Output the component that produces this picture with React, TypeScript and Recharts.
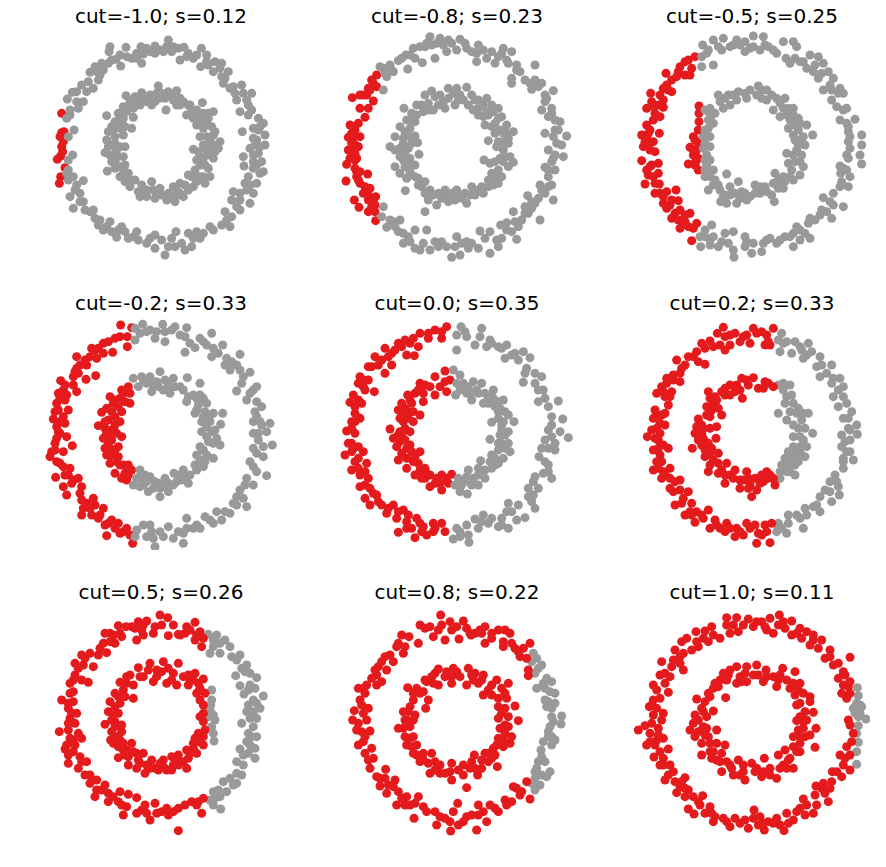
import { Scatter, ScatterChart, XAxis, YAxis, ZAxis } from "recharts";

type Pt = [number, number];

// readings, one pair of lists per panel
const titles = [
  "cut=-1.0; s=0.12", "cut=-0.8; s=0.23", "cut=-0.5; s=0.25",
  "cut=-0.2; s=0.33", "cut=0.0; s=0.35", "cut=0.2; s=0.33",
  "cut=0.5; s=0.26", "cut=0.8; s=0.22", "cut=1.0; s=0.11",
];

const red1: Pt[] = [[65,250],[65,308],[72,305],[60,320],[70,335],[65,350],[68,365],[62,378],[52,388],[75,413],[62,440],[58,460]];
const gray1: Pt[] = [[385,30],[380,50],[360,60],[395,65],[415,55],[432,52],[345,48],[330,65],[303,50],[310,72],[290,70],[305,100],[275,85],[258,52],[240,75],[242,108],[228,88],[210,50],[207,65],[205,100],[185,100],[165,110],[150,127],[180,135],[175,150],[145,155],[160,175],[125,165],[110,185],[97,187],[82,207],[130,215],[115,235],[90,240],[80,265],[102,300],[85,320],[98,375],[85,390],[80,430],[100,440],[85,450],[130,452],[110,465],[90,500],[120,490],[130,515],[100,535],[135,540],[160,540],[165,565],[175,585],[210,575],[190,600],[215,605],[235,600],[230,622],[255,605],[265,625],[290,605],[295,630],[320,640],[345,615],[345,655],[365,630],[375,675],[395,625],[405,650],[408,605],[435,660],[445,610],[455,650],[470,605],[490,610],[480,625],[520,600],[545,585],[570,590],[575,560],[555,545],[600,540],[575,510],[580,485],[600,490],[630,520],[640,490],[615,460],[650,460],[660,430],[625,440],[670,425],[640,415],[612,408],[610,380],[665,395],[640,395],[655,370],[675,345],[630,355],[650,330],[675,315],[640,325],[607,305],[640,295],[670,280],[655,265],[625,255],[600,245],[625,225],[590,210],[610,190],[635,190],[605,165],[585,190],[570,175],[550,160],[565,125],[545,140],[545,100],[520,125],[525,95],[500,75],[505,105],[482,110],[484,55],[460,85],[445,70],[420,90],
[370,65],[345,70],[400,50],[440,80],[470,75],[500,95],[540,115],[555,145],[580,170],[620,210],[635,240],[660,290],[655,300],[645,345],[660,350],[640,375],[650,405],[630,465],[620,480],[600,510],[590,530],[560,570],[510,590],[460,625],[425,640],[385,650],[330,625],[280,620],[245,590],[200,590],[180,570],[150,545],[120,515],[105,480],[85,420],[90,255],[110,215],[140,185],[170,125],[190,120],[215,90],[260,80],[290,85],[320,55],
[355,168],[350,190],[330,195],[305,188],[385,185],[410,182],[375,205],[400,210],[420,205],[345,215],[320,215],[295,210],[258,197],[270,215],[250,230],[280,235],[378,240],[420,225],[440,255],[445,225],[470,240],[487,218],[490,250],[520,245],[505,265],[480,270],[460,265],[515,290],[490,295],[500,320],[520,315],[540,335],[535,355],[515,345],[490,345],[460,358],[510,375],[490,385],[520,385],[480,405],[505,415],[465,420],[495,460],[480,440],[445,435],[470,455],[420,460],[445,480],[410,480],[430,500],[405,515],[385,490],[360,475],[380,510],[350,495],[335,455],[320,500],[320,480],[295,485],[270,470],[285,450],[255,455],[265,430],[240,440],[240,410],[202,423],[215,395],[255,405],[235,380],[210,375],[195,368],[240,350],[215,345],[255,350],[200,330],[225,320],[250,315],[205,305],[240,295],[275,295],[225,275],[200,257],[250,265],[280,262],[235,250],[260,245],
[310,205],[335,225],[360,205],[395,195],[430,215],[455,240],[475,255],[500,280],[470,285],[480,320],[510,330],[475,365],[500,360],[525,365],[470,390],[495,405],[455,440],[490,440],[435,465],[460,470],[400,470],[420,490],[395,500],[365,495],[340,480],[305,465],[300,500],[270,450],[250,430],[225,415],[225,395],[250,380],[205,350],[230,360],[220,300],[255,290],[245,275],[275,215],[300,225],
[285,200],[340,205],[365,190],[410,225],[450,225],[505,250],[525,305],[530,345],[480,380],[510,440],[465,440],[410,495],[345,505],[305,490],[265,450],[220,375],[225,340],[215,290],[240,265],[265,230]];

const red2: Pt[] = [[125,135],[110,150],[125,170],[100,175],[95,195],[75,195],[52,203],[115,213],[100,235],[75,235],[90,262],[70,280],[45,285],[60,300],[40,322],[75,320],[60,345],[40,360],[70,350],[45,385],[65,385],[35,403],[60,415],[98,432],[65,440],[33,453],[75,460],[105,475],[85,490],[122,500],[100,510],[58,510],[72,532],[120,525],[100,545],[120,545],[122,572],
[115,160],[105,180],[85,195],[55,290],[60,320],[50,340],[55,365],[60,390],[65,425],[70,450],[90,470],[100,495],[115,510],[110,530],[60,370],[50,310],[75,425]];
const gray2: Pt[] = [[145,115],[135,110],[165,105],[175,125],[155,140],[145,180],[190,92],[218,117],[213,75],[235,55],[240,85],[262,98],[270,50],[285,20],[300,85],[290,45],[315,25],[325,45],[350,40],[335,65],[375,28],[365,60],[390,40],[410,65],[425,95],[430,45],[445,60],[470,65],[490,80],[505,55],[530,65],[480,100],[520,100],[545,105],[600,105],[530,145],[530,160],[555,125],[570,150],[600,150],[620,160],[590,178],[655,182],[630,195],[630,215],[620,240],[650,235],[640,260],[675,275],[670,300],[630,310],[655,320],[695,318],[680,345],[640,360],[660,375],[685,380],[650,395],[630,412],[660,420],[640,440],[615,465],[650,465],[630,490],[610,505],[655,510],[578,497],[600,520],[570,530],[535,545],[580,550],[560,570],[615,570],[515,578],[497,585],[550,590],[530,605],[500,625],[545,628],[490,650],[435,603],[465,605],[450,625],[430,655],[465,670],[395,635],[400,655],[365,620],[360,650],[350,682],[375,675],[320,635],[310,650],[285,660],[300,635],[255,660],[265,640],[240,655],[275,600],[240,600],[205,640],[220,620],[195,570],[180,590],[190,605],[165,570],[155,592],[145,530],[140,560],[270,545],
[150,130],[170,120],[200,85],[225,75],[255,50],[275,40],[305,40],[340,30],[395,55],[425,70],[455,85],[500,70],[515,90],[545,120],[585,160],[610,170],[635,205],[650,250],[660,270],[660,300],[665,340],[655,385],[640,420],[640,470],[620,480],[590,515],[590,535],[570,550],[540,575],[515,600],[485,630],[410,640],[380,640],[335,650],[225,635],[205,610],[175,575],
[290,183],[270,195],[340,175],[365,175],[395,172],[315,195],[340,205],[375,195],[410,195],[430,210],[455,205],[245,225],[207,235],[280,220],[310,225],[330,235],[360,225],[400,225],[430,235],[470,225],[490,235],[430,255],[460,255],[500,260],[480,280],[450,285],[515,285],[505,310],[535,305],[480,310],[460,332],[490,335],[520,340],[505,360],[495,385],[525,380],[535,397],[447,390],[465,400],[520,410],[490,420],[470,430],[500,440],[460,450],[475,465],[440,470],[445,490],[410,470],[420,495],[390,490],[395,520],[365,480],[360,510],[330,480],[340,515],[310,490],[305,525],[280,510],[285,480],[270,455],[250,465],[211,482],[240,440],[215,445],[195,430],[210,410],[240,405],[180,410],[195,380],[225,385],[252,373],[165,350],[195,355],[220,355],[248,338],[180,320],[205,325],[240,318],[195,290],[225,295],[215,270],[245,255],[265,245],
[300,200],[355,190],[385,210],[420,210],[445,225],[415,240],[455,245],[475,245],[490,265],[470,290],[495,300],[515,310],[485,350],[505,335],[480,395],[505,395],[480,440],[460,470],[430,480],[405,495],[380,505],[350,490],[320,505],[295,495],[260,470],[225,425],[225,405],[205,390],[180,360],[205,340],[225,320],[210,305],[240,275],[260,225],[230,250],[295,240],
[325,215],[370,210],[445,260],[520,325],[510,380],[490,460],[375,495],[335,495],[270,490],[250,445],[210,365],[230,340],[230,270],[280,240]];

const red3: Pt[] = [[195,80],[165,95],[185,115],[108,130],[145,125],[165,135],[180,135],[125,150],[100,175],[125,185],[90,195],[100,210],[62,190],[65,215],[50,235],[100,232],[75,250],[90,260],[50,285],[60,300],[88,310],[35,315],[50,320],[70,335],[40,350],[60,360],[75,365],[35,392],[65,405],[85,400],[50,420],[85,430],[70,440],[45,462],[88,462],[75,490],[138,480],[110,485],[125,510],[100,520],[145,512],[110,535],[150,540],[125,565],[145,570],[165,555],[180,550],[150,595],[190,595],[185,632],[200,580],
[175,90],[150,110],[140,140],[110,165],[115,180],[70,230],[85,225],[70,270],[55,310],[45,335],[55,345],[60,410],[55,435],[75,460],[90,490],[100,500],[120,525],[135,550],[165,575],[175,590],
[207,228],[207,250],[207,275],[205,300],[190,320],[205,340],[180,352],[200,360],[190,375],[205,385],[175,402],[195,405],[205,420],[195,330],[190,360],[197,395]];
const gray3: Pt[] = [[218,45],[215,80],[215,110],[250,105],[235,60],[250,30],[280,25],[275,60],[300,50],[320,30],[310,45],[345,35],[370,18],[345,65],[370,50],[400,20],[390,60],[415,50],[440,70],[460,35],[490,35],[500,50],[468,85],[480,100],[510,95],[540,75],[565,80],[580,100],[530,115],[550,125],[565,145],[595,125],[610,145],[580,180],[605,180],[630,175],[605,210],[640,190],[620,230],[650,235],[630,270],[675,268],[655,290],[695,315],[660,320],[695,345],[660,355],[690,375],[655,385],[695,402],[630,408],[650,420],[632,430],[660,440],[630,470],[655,470],[610,490],[580,503],[640,530],[610,525],[590,545],[570,555],[605,565],[540,565],[535,580],[500,590],[490,610],[525,610],[540,625],[510,630],[490,650],[465,620],[440,640],[420,625],[400,640],[395,665],[365,670],[345,620],[345,650],[312,682],[310,660],[285,610],[310,605],[295,640],[265,650],[245,585],[225,600],[210,620],[240,630],[212,650],[240,645],
[230,70],[265,50],[330,45],[360,55],[405,45],[430,60],[495,85],[520,95],[555,105],[575,130],[600,165],[625,190],[640,240],[650,280],[655,305],[655,335],[650,375],[640,415],[635,455],[600,515],[575,540],[555,570],[510,600],[480,620],[450,630],[410,630],[370,640],[350,635],[275,635],[250,620],[225,620],
[225,240],[240,235],[265,195],[270,215],[295,195],[325,185],[300,225],[320,210],[360,180],[385,168],[380,195],[410,180],[410,210],[440,205],[465,205],[430,240],[460,235],[490,235],[450,260],[480,270],[505,265],[475,295],[505,300],[530,285],[548,315],[520,320],[495,330],[525,345],[500,360],[470,370],[515,375],[495,395],[520,410],[485,420],[510,435],[435,430],[460,440],[490,450],[430,460],[460,475],[405,470],[425,495],[433,515],[375,465],[390,490],[360,500],[335,485],[350,510],[320,520],[290,520],[272,515],[300,495],[325,455],[290,432],[300,470],[270,480],[235,480],[255,450],[225,440],[250,420],[230,405],[230,375],[225,340],[240,320],[225,300],[235,270],[255,250],
[245,255],[285,205],[310,195],[345,190],[395,180],[425,195],[450,220],[475,235],[490,255],[510,280],[490,315],[510,330],[490,375],[510,395],[480,440],[445,450],[410,485],[375,490],[345,490],[315,490],[285,495],[265,465],[240,440],[225,420],[225,390],[220,355],[235,295],[240,255],
[280,235],[350,205],[395,205],[470,255],[495,285],[505,345],[475,400],[465,455],[445,475],[390,470],[330,505],[280,500],[250,465],[240,390],[240,350],[220,320],[250,280]];

const red4: Pt[] = [[242,30],[275,38],[262,65],[225,70],[205,80],[262,95],[218,112],[155,100],[175,100],[190,115],[150,125],[110,125],[170,130],[140,150],[110,160],[100,185],[167,182],[138,193],[100,210],[62,197],[70,225],[110,230],[55,235],[80,240],[50,265],[85,285],[45,290],[70,305],[40,312],[75,325],[50,335],[60,355],[45,385],[80,365],[97,392],[70,410],[35,410],[30,425],[50,440],[70,455],[90,460],[47,487],[75,480],[115,490],[95,505],[70,515],[80,540],[120,535],[125,555],[160,550],[130,580],[165,570],[125,600],[155,600],[190,580],[175,610],[195,630],[215,615],[235,625],[260,640],[200,662],[240,655],[270,660],[278,685],
[240,65],[190,85],[165,105],[135,135],[120,150],[105,170],[115,175],[75,210],[60,250],[75,255],[55,285],[60,320],[55,350],[50,370],[45,405],[60,445],[85,480],[100,495],[125,515],[140,565],[150,580],[180,600],[205,625],[225,640],[250,650],
[265,215],[245,225],[270,235],[210,245],[240,250],[270,265],[220,265],[185,292],[215,290],[245,290],[205,315],[240,320],[175,332],[195,340],[215,345],[245,365],[190,370],[215,375],[195,400],[225,405],[200,420],[235,425],[210,445],[250,450],[225,475],[255,475],[275,465],[260,495],
[250,235],[225,255],[200,280],[225,305],[195,320],[225,330],[205,360],[230,355],[205,385],[235,395],[215,420],[240,450],[265,450],[245,490],[200,355],[210,400],[230,440],[255,260],[235,275],[265,480]];
const gray4: Pt[] = [[285,40],[308,28],[285,75],[320,50],[345,70],[330,45],[368,28],[375,80],[375,50],[405,35],[440,38],[420,60],[450,85],[435,112],[465,98],[480,70],[515,55],[500,90],[515,125],[548,90],[535,115],[555,150],[600,118],[575,140],[600,165],[570,165],[630,172],[605,205],[590,228],[650,215],[630,235],[620,255],[665,275],[645,290],[640,320],[690,325],[660,320],[640,355],[680,350],[655,375],[697,390],[640,400],[670,395],[630,440],[670,425],[680,482],[650,470],[620,490],[640,510],[600,525],[610,550],[580,565],[620,575],[530,590],[570,595],[545,615],[495,605],[520,625],[480,640],[440,610],[460,640],[430,655],[430,685],[400,670],[385,635],[345,695],[370,665],[335,650],[330,630],[310,630],[320,665],[290,645],[285,665],
[300,55],[350,50],[395,45],[435,65],[490,80],[520,100],[560,130],[590,150],[610,185],[640,225],[650,260],[650,305],[665,330],[655,355],[650,415],[640,455],[615,510],[590,545],[590,570],[555,590],[510,615],[470,630],[440,640],[415,650],[360,650],[340,670],
[280,190],[305,185],[330,185],[360,170],[295,215],[320,205],[350,200],[375,195],[400,190],[442,188],[335,230],[370,225],[405,215],[390,235],[480,205],[430,225],[460,240],[490,250],[440,260],[475,270],[500,265],[465,295],[495,290],[520,295],[548,295],[485,320],[510,320],[542,328],[485,350],[515,350],[530,370],[505,380],[540,390],[480,395],[470,420],[500,420],[520,430],[465,450],[490,455],[430,465],[450,480],[402,475],[425,495],[445,505],[375,490],[400,510],[360,520],[385,530],[330,485],[345,500],[360,545],[325,530],[300,465],[290,490],[300,515],[280,510],
[310,195],[340,210],[385,210],[420,215],[445,245],[480,240],[470,285],[510,300],[500,335],[500,365],[520,385],[490,405],[480,435],[470,465],[440,490],[410,500],[375,515],[340,520],[310,510],[300,490],[320,500],[355,215],[470,250],[490,305],[525,345],[495,440],[420,480],[385,505],[355,505],[315,480]];

const red5: Pt[] = [[335,35],[300,45],[255,55],[320,70],[280,70],[235,70],[210,75],[190,85],[250,95],[150,100],[180,105],[215,120],[238,122],[120,125],[160,125],[130,150],[170,150],[100,155],[150,175],[75,185],[100,195],[70,205],[118,230],[90,225],[55,240],[45,262],[80,265],[60,295],[50,320],[75,310],[35,348],[60,355],[40,385],[70,395],[30,420],[50,410],[85,410],[60,440],[95,445],[50,465],[75,480],[100,490],[75,515],[105,520],[90,550],[125,540],[105,570],[140,570],[175,570],[155,595],[205,585],[185,610],[215,620],[245,610],[190,652],[230,640],[265,635],[240,668],[275,660],[295,625],[295,650],[320,625],[330,650],
[320,50],[280,55],[225,85],[200,95],[170,115],[140,135],[110,155],[85,195],[85,215],[70,255],[60,275],[60,320],[50,340],[50,385],[55,400],[70,430],[70,460],[90,470],[90,510],[115,535],[130,560],[160,580],[190,590],[220,600],[255,625],[215,640],[260,650],[300,640],
[330,168],[300,185],[255,205],[285,215],[315,215],[345,195],[240,235],[218,240],[265,235],[300,240],[335,230],[200,265],[230,265],[265,260],[190,285],[220,290],[255,300],[205,320],[235,320],[165,342],[195,350],[225,350],[175,370],[210,375],[185,395],[215,400],[255,410],[190,435],[215,430],[240,425],[215,460],[250,445],[240,480],[270,460],[260,490],[285,480],[285,515],[305,490],[320,480],[320,525],[340,505],[350,478],
[270,210],[330,200],[250,225],[225,255],[210,280],[195,310],[220,310],[210,340],[195,380],[225,390],[200,415],[235,440],[255,465],[270,490],[300,505],[335,490],[235,290],[205,300],[190,360],[200,360],[230,410],[250,480],[275,475],[315,505]];
const gray5: Pt[] = [[378,35],[365,60],[440,40],[395,65],[420,90],[435,65],[365,105],[465,75],[455,95],[490,95],[515,90],[530,120],[565,110],[585,128],[510,130],[550,135],[575,160],[570,175],[620,185],[600,205],[565,202],[625,225],[610,260],[670,258],[640,275],[650,305],[683,312],[640,345],[675,350],[700,368],[630,375],[660,385],[640,400],[660,405],[612,425],[640,450],[625,475],[650,490],[600,485],[580,520],[610,520],[580,545],[600,580],[550,570],[520,565],[515,590],[570,608],[545,615],[500,610],[520,640],[490,635],[445,600],[460,625],[420,612],[430,640],[395,630],[400,660],[365,640],[402,682],[355,672],[375,665],
[390,50],[470,85],[500,100],[540,115],[600,175],[610,225],[630,250],[650,330],[650,365],[620,400],[630,440],[640,470],[595,500],[595,540],[590,560],[530,590],[500,630],[470,610],[440,620],[375,650],
[355,165],[375,180],[365,205],[385,205],[415,200],[440,205],[475,225],[362,240],[395,235],[430,235],[460,245],[410,255],[445,265],[505,255],[480,275],[510,290],[490,310],[520,300],[470,322],[537,320],[500,330],[520,350],[465,373],[495,360],[500,385],[520,385],[490,405],[525,410],[470,420],[505,430],[437,437],[465,440],[490,445],[430,460],[470,460],[400,465],[415,490],[450,490],[370,490],[390,500],[430,510],[375,530],[397,537],[360,510],
[400,215],[425,225],[450,235],[475,250],[495,280],[490,290],[505,320],[510,360],[490,385],[510,400],[480,430],[450,465],[430,480],[395,485],[380,510],[375,225],[410,235],[460,265],[490,260],[500,345],[480,450],[410,510]];

const red6: Pt[] = [[280,37],[262,55],[285,65],[315,55],[340,65],[370,40],[380,55],[430,40],[410,60],[360,85],[330,80],[240,78],[215,85],[270,90],[300,90],[285,105],[405,90],[420,90],[200,110],[175,125],[140,135],[225,148],[165,150],[205,140],[110,190],[150,175],[130,195],[150,200],[95,215],[125,230],[80,235],[105,245],[115,270],[75,285],[105,295],[70,310],[90,325],[105,330],[65,345],[90,355],[52,365],[85,375],[100,390],[70,405],[115,400],[90,420],[80,440],[70,465],[100,470],[120,460],[95,490],[120,490],[150,495],[120,520],[150,525],[175,530],[135,570],[160,550],[185,565],[165,600],[185,600],[200,590],[235,585],[195,622],[220,610],[240,640],[255,615],[270,640],[290,625],[320,640],[285,650],[315,665],[350,625],[340,660],[375,630],[380,685],[405,630],[395,660],[420,683],[425,625],
[300,60],[350,60],[395,50],[415,80],[250,95],[225,100],[190,125],[155,160],[130,180],[110,205],[100,230],[120,245],[80,300],[95,300],[80,340],[75,370],[85,400],[95,440],[85,460],[105,480],[135,500],[130,530],[155,565],[180,590],[215,600],[260,630],[300,640],[330,650],[360,640],[385,655],[410,650],
[370,188],[335,190],[405,200],[300,210],[355,210],[385,220],[430,215],[275,230],[330,225],[235,230],[240,250],[300,240],[337,250],[260,255],[230,275],[265,280],[205,312],[240,305],[275,300],[195,355],[220,340],[260,335],[220,370],[258,370],[187,400],[215,390],[245,400],[265,415],[225,425],[250,435],[235,470],[265,445],[290,445],[265,475],[315,465],[285,505],[310,490],[330,520],[350,470],[340,495],[365,545],[375,490],[380,525],[410,470],[400,500],[435,510],[415,490],[355,490],
[320,210],[350,195],[400,220],[415,205],[285,240],[250,265],[245,285],[230,300],[215,330],[240,340],[205,375],[235,385],[240,415],[240,450],[275,465],[300,480],[330,495],[360,510],[390,505],[420,480],[285,220],[315,230],[255,245],[215,355],[200,335],[225,405],[285,480],[355,520],[395,480],[430,490]];
const gray6: Pt[] = [[455,55],[445,75],[470,80],[495,80],[535,85],[450,110],[485,115],[515,105],[520,130],[545,110],[570,125],[560,155],[605,150],[570,185],[590,175],[630,190],[605,205],[640,215],[610,245],[640,245],[625,275],[665,290],[640,310],[680,330],[655,340],[682,358],[635,360],[660,375],[635,395],[660,410],[640,430],[670,435],[615,480],[640,460],[600,500],[625,515],[585,525],[628,540],[570,545],[605,560],[560,570],[570,590],[525,580],[530,600],[475,600],[510,610],[520,640],[475,625],[445,625],[470,655],[440,650],
[460,85],[510,95],[530,120],[575,150],[610,190],[625,225],[650,265],[655,310],[660,345],[645,380],[650,410],[640,440],[620,500],[600,530],[550,575],[500,600],[455,640],[445,635],
[445,210],[480,210],[460,225],[470,245],[490,265],[445,295],[470,315],[500,295],[535,295],[515,315],[490,330],[525,340],[548,355],[490,365],[520,375],[510,395],[525,425],[490,420],[465,430],[495,450],[455,450],[470,470],[495,480],[450,490],[510,410],[465,265],[480,290],
[460,205],[485,240],[505,280],[520,295],[505,340],[510,365],[530,395],[505,410],[480,440],[505,440],[470,460],[450,470],[490,395],[475,410],[500,430],[480,470]];

const red7: Pt[] = [[360,30],[383,38],[320,48],[295,50],[275,65],[235,62],[258,65],[305,75],[340,85],[385,92],[415,88],[400,60],[435,85],[465,52],[440,65],[480,80],[465,105],[485,125],[210,85],[195,85],[245,95],[290,105],[225,115],[190,115],[175,150],[200,143],[125,150],[150,145],[105,175],[130,180],[160,185],[105,210],[145,232],[125,225],[90,235],[100,260],[65,285],[100,290],[85,310],[110,325],[90,340],[105,355],[58,380],[85,375],[115,385],[125,400],[90,400],[75,432],[105,420],[85,450],[85,475],[120,455],[140,470],[115,490],[135,510],[150,535],[170,525],[195,540],[170,555],[165,575],[205,565],[240,560],[205,590],[235,590],[265,568],[290,578],[250,630],[260,605],[290,625],[315,600],[345,595],[330,645],[350,625],[380,610],[385,630],[415,610],[435,600],[455,590],[485,625],[415,677],[490,580],[470,600],
[345,65],[310,60],[285,70],[220,90],[240,85],[210,110],[180,130],[135,160],[115,190],[100,225],[90,265],[85,295],[95,325],[85,355],[100,405],[80,420],[100,440],[125,470],[150,510],[185,555],[220,575],[245,600],[305,615],[320,625],[365,620],[400,620],[475,590],[420,90],[450,75],[470,90],[490,100],[365,60],[310,90],
[330,175],[370,170],[295,188],[350,195],[385,190],[415,175],[445,210],[465,205],[490,222],[270,210],[310,215],[340,230],[380,235],[410,240],[445,240],[475,235],[240,232],[280,240],[470,265],[495,265],[250,255],[225,265],[280,280],[490,300],[210,290],[240,295],[205,320],[235,325],[490,325],[195,358],[225,350],[245,360],[215,380],[245,380],[495,375],[212,405],[240,405],[490,395],[465,400],[275,415],[235,425],[260,435],[490,420],[460,415],[235,458],[265,455],[280,440],[440,435],[470,445],[265,480],[295,465],[310,445],[415,450],[445,460],[290,490],[315,505],[335,465],[360,475],[395,455],[415,480],[440,490],[345,490],[380,495],[400,480],[370,465],
[300,215],[325,195],[365,200],[400,205],[430,215],[450,225],[480,250],[260,235],[235,275],[480,285],[480,335],[490,350],[225,305],[220,330],[225,365],[230,395],[475,385],[220,415],[250,415],[475,410],[255,450],[290,445],[460,430],[430,470],[300,475],[330,490],[355,495],[395,495],[420,470],[375,490],[260,215],[350,215],[395,225],[460,225],[255,275],[215,345],[250,435],[320,480],[410,465],[450,445]];
const gray7: Pt[] = [[505,88],[530,90],[555,105],[520,125],[510,145],[540,145],[570,125],[575,155],[600,150],[620,180],[587,212],[605,190],[630,205],[650,218],[600,242],[630,240],[645,250],[612,267],[670,273],[625,300],[650,295],[620,320],[660,310],[605,355],[650,340],[640,365],[625,385],[650,395],[620,410],[600,432],[645,430],[625,445],[645,460],[610,480],[590,470],[590,505],[570,520],[590,535],[550,530],[560,560],[520,560],[540,575],[510,585],[520,600],[542,612],
[540,115],[520,105],[590,165],[615,200],[625,255],[640,285],[640,320],[630,340],[635,395],[630,420],[610,450],[605,510],[580,540],[535,555],[525,580],
[515,255],[515,285],[510,315],[525,345],[505,335],[515,365],[520,385],[522,408],[512,300],[520,330]];

const red8: Pt[] = [[317,30],[255,60],[285,65],[345,50],[385,48],[310,75],[350,75],[395,70],[420,85],[450,65],[295,95],[330,105],[372,102],[408,90],[440,85],[490,75],[510,75],[525,85],[200,90],[222,95],[250,115],[470,100],[450,115],[505,110],[505,125],[540,130],[565,130],[585,115],[185,125],[210,125],[575,160],[555,155],[150,155],[175,170],[205,145],[130,185],[155,195],[125,210],[110,220],[140,230],[95,240],[125,240],[70,250],[90,265],[75,285],[100,310],[58,317],[85,325],[53,345],[95,345],[65,375],[105,378],[90,395],[70,420],[110,430],[90,445],[115,460],[105,490],[152,493],[125,515],[150,520],[180,525],[135,543],[175,545],[155,565],[190,560],[215,575],[250,575],[185,600],[210,600],[240,595],[265,605],[237,640],[300,620],[368,595],[355,620],[330,640],[305,660],[347,678],[370,660],[395,635],[430,600],[425,675],[430,630],[455,650],[465,600],[490,620],[510,585],[535,545],[545,550],[575,530],[555,570],[585,582],[530,590],[580,212],[580,195],
[270,70],[320,60],[365,65],[405,85],[435,75],[470,85],[530,115],[550,140],[190,115],[165,150],[140,170],[120,195],[85,250],[80,300],[70,355],[80,380],[85,410],[100,465],[135,520],[160,540],[200,580],[225,600],[275,620],[315,635],[345,650],[385,650],[410,630],[445,620],[480,610],[515,600],[560,560],
[310,192],[355,190],[400,190],[290,215],[330,215],[375,215],[420,205],[445,210],[270,225],[310,240],[350,235],[395,240],[430,235],[520,235],[485,225],[218,248],[245,250],[265,260],[460,255],[500,250],[280,285],[235,285],[445,270],[490,280],[515,280],[272,310],[225,305],[205,320],[510,310],[540,303],[240,330],[210,345],[490,340],[520,335],[550,347],[190,370],[225,365],[495,370],[520,365],[210,395],[235,395],[490,400],[530,395],[215,420],[245,420],[525,415],[505,425],[475,430],[235,445],[265,445],[290,445],[450,445],[480,450],[255,470],[280,475],[315,480],[418,450],[460,470],[487,485],[285,505],[330,505],[350,475],[385,480],[410,470],[440,490],[350,525],[385,510],[428,510],[395,548],
[275,230],[300,205],[335,200],[365,200],[410,210],[440,225],[470,240],[510,265],[470,270],[490,305],[235,265],[220,320],[235,345],[205,370],[510,360],[225,400],[510,385],[505,405],[245,450],[485,420],[265,465],[460,445],[300,470],[440,465],[300,495],[345,500],[370,495],[405,490],[295,235],[350,215],[415,225],[255,265],[215,345],[500,325],[230,425],[470,460],[315,505],[420,490]];
const gray8: Pt[] = [[595,145],[590,170],[620,180],[600,205],[635,220],[650,230],[605,250],[630,250],[660,265],[630,285],[660,295],[635,305],[680,333],[650,335],[678,357],[645,365],[640,395],[660,405],[625,410],[650,420],[618,435],[610,470],[630,470],[645,500],[600,500],[635,515],[615,540],[600,555],[590,535],
[605,160],[610,190],[625,235],[645,260],[640,290],[650,310],[655,350],[640,380],[650,395],[620,455],[605,490],[620,510],[600,520]];

const red9: Pt[] = [[448,30],[290,38],[320,38],[355,42],[395,50],[420,40],[485,48],[290,60],[340,60],[370,65],[410,75],[445,60],[465,70],[245,65],[225,78],[198,80],[510,70],[530,80],[550,90],[325,80],[270,100],[300,85],[430,85],[485,90],[235,110],[170,100],[155,110],[515,100],[575,105],[205,125],[135,135],[185,135],[540,120],[600,135],[565,130],[160,145],[95,170],[150,175],[585,160],[660,157],[625,175],[125,185],[160,195],[640,200],[610,180],[90,210],[120,215],[625,220],[70,240],[105,235],[640,240],[660,230],[115,262],[635,265],[660,265],[70,285],[90,280],[58,305],[650,280],[100,325],[70,330],[655,345],[95,345],[45,362],[25,375],[65,355],[660,360],[85,370],[60,385],[670,385],[100,400],[80,405],[50,420],[75,420],[665,410],[115,432],[90,440],[650,425],[72,456],[630,450],[100,460],[660,450],[90,480],[120,480],[640,480],[660,495],[130,500],[105,525],[607,500],[135,530],[165,518],[635,515],[605,530],[150,545],[175,555],[558,543],[580,535],[140,563],[165,575],[190,575],[218,572],[585,565],[555,570],[595,590],[520,582],[210,600],[240,605],[175,612],[192,627],[560,600],[530,600],[225,625],[500,620],[550,625],[255,635],[470,625],[525,630],[372,615],[280,640],[390,635],[440,640],[250,650],[315,640],[345,645],[415,650],[475,655],[300,665],[355,670],[385,660],[450,660],[403,675],[462,677],
[310,60],[380,50],[405,65],[460,50],[500,85],[250,90],[220,100],[200,110],[150,155],[130,165],[105,205],[80,255],[80,310],[65,300],[85,390],[60,410],[100,480],[115,510],[155,530],[165,550],[205,590],[245,625],[290,650],[330,655],[370,640],[400,655],[430,655],[490,645],[510,610],[575,550],[600,550],[620,500],[645,460],[645,210],[655,245],[600,155],[550,105],
[320,185],[350,185],[380,180],[300,195],[408,195],[458,190],[495,200],[280,205],[330,215],[370,210],[430,215],[255,235],[290,225],[320,235],[350,230],[400,230],[470,225],[510,235],[250,250],[440,245],[480,250],[235,265],[287,278],[495,270],[520,265],[540,275],[200,282],[225,290],[510,295],[540,290],[250,318],[215,310],[525,320],[550,322],[195,330],[230,335],[500,347],[530,345],[190,355],[220,365],[520,370],[558,370],[180,375],[205,380],[260,375],[490,395],[525,395],[540,390],[195,395],[235,395],[510,415],[555,427],[215,415],[260,415],[285,420],[465,435],[510,440],[215,450],[240,440],[275,445],[490,425],[480,460],[260,465],[290,470],[325,465],[403,460],[445,450],[490,490],[275,500],[305,490],[365,475],[420,490],[460,480],[330,510],[345,525],[395,515],[440,520],[375,500],[420,510],
[345,205],[295,210],[385,210],[410,215],[450,210],[490,235],[265,245],[240,275],[220,320],[205,345],[230,370],[500,300],[510,335],[520,350],[505,375],[510,395],[240,415],[500,440],[245,460],[270,470],[300,480],[340,480],[380,490],[450,490],[475,465],[340,500],[310,510],[270,225],[335,230],[445,225],[505,255],[225,390],[250,440],[470,490],[400,500]];
const gray9: Pt[] = [[682,248],[685,272],[680,295],[695,305],[670,310],[690,325],[685,335],[708,342],[685,362],[680,385],[685,412],[680,440],[680,478],[690,300],[675,325]];

const redLists = [red1, red2, red3, red4, red5, red6, red7, red8, red9];
const grayLists = [gray1, gray2, gray3, gray4, gray5, gray6, gray7, gray8, gray9];

const RED = "#e41a1c";
const GRAY = "#999999";
const lefts = [40, 335, 630];
const tops = [30, 315, 605];
const titleTops = [4, 291, 580];
const titleCenters = [161, 457, 752];

function toRows(points: Pt[]) {
  return points.map(([x, y]) => ({ x, y }));
}

function Panel({ index }: { index: number }) {
  const col = index % 3;
  const row = Math.floor(index / 3);
  const red = <Scatter key="r" data={toRows(redLists[index])} fill={RED} isAnimationActive={false} />;
  const gray = <Scatter key="g" data={toRows(grayLists[index])} fill={GRAY} isAnimationActive={false} />;
  return (
    <>
      <div
        style={{
          position: "absolute",
          left: titleCenters[col] - 120,
          top: titleTops[row],
          width: 240,
          textAlign: "center",
          fontFamily: "DejaVu Sans",
          fontSize: 20,
          lineHeight: "24px",
          color: "#000",
          whiteSpace: "nowrap",
        }}
      >
        {titles[index]}
      </div>
      <div style={{ position: "absolute", left: lefts[col], top: tops[row] }}>
        <ScatterChart width={240} height={235} margin={{ top: 0, right: 0, bottom: 0, left: 0 }}>
          <XAxis type="number" dataKey="x" domain={[0, 720]} hide />
          <YAxis type="number" dataKey="y" domain={[0, 705]} reversed hide />
          <ZAxis range={[64, 64]} />
          {index < 5 ? [red, gray] : [gray, red]}
        </ScatterChart>
      </div>
    </>
  );
}

export default function App() {
  return (
    <div style={{ position: "absolute", left: 0, top: 0, width: 886, height: 867, background: "#fff" }}>
      {titles.map((t, i) => (
        <Panel key={t} index={i} />
      ))}
    </div>
  );
}
